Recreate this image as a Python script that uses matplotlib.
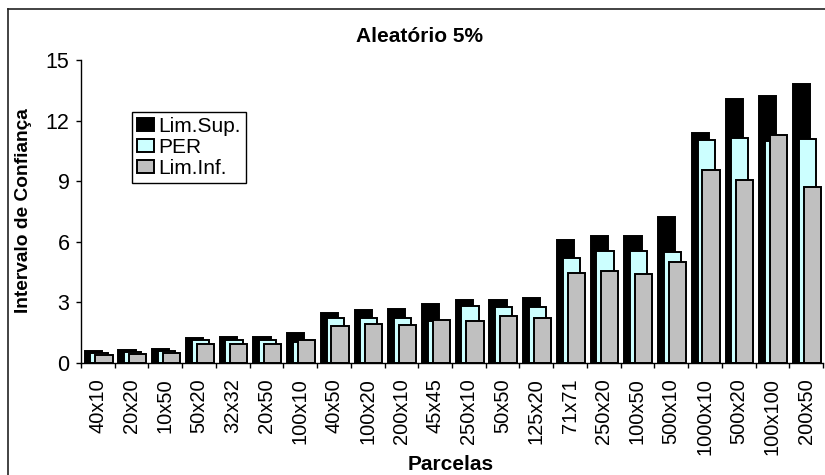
import matplotlib
matplotlib.use("Agg")
import matplotlib.pyplot as plt
from matplotlib.lines import Line2D
import numpy as np

plt.rcParams['font.family'] = ['Liberation Sans', 'DejaVu Sans']

categories = ["40x10", "20x20", "10x50", "50x20", "32x32", "20x50", "100x10",
              "40x50", "100x20", "200x10", "45x45", "250x10", "50x50", "125x20",
              "71x71", "250x20", "100x50", "500x10", "1000x10", "500x20",
              "100x100", "200x50"]
lim_sup = [0.58, 0.62, 0.68, 1.26, 1.27, 1.27, 1.47, 2.48, 2.64, 2.69, 2.90,
           3.10, 3.14, 3.20, 6.08, 6.27, 6.30, 7.23, 11.41, 13.07, 13.24, 13.81]
per = [0.48, 0.52, 0.58, 1.16, 1.16, 1.15, 1.05, 2.23, 2.25, 2.23, 2.08,
       2.81, 2.77, 2.77, 5.18, 5.53, 5.53, 5.48, 11.06, 11.12, 10.98, 11.11]
lim_inf = [0.42, 0.46, 0.49, 0.93, 0.93, 0.93, 1.12, 1.85, 1.93, 1.90, 2.15,
           2.06, 2.33, 2.25, 4.46, 4.57, 4.42, 4.98, 9.57, 9.04, 11.29, 8.71]
y_ticks = [0, 3, 6, 9, 12, 15]

W, H = 825, 475
fig = plt.figure(figsize=(W / 100, H / 100), dpi=100)
ax = fig.add_axes([81 / W, 1 - 363 / H, (823 - 81) / W, (363 - 60) / H])

x = np.arange(len(categories))
bw = 0.51
series = [
    (lim_sup, -0.135, "#000000", "Lim.Sup."),
    (per, 0.035, "#CCFFFF", "PER"),
    (lim_inf, 0.18, "#C0C0C0", "Lim.Inf."),
]
handles = []
for vals, off, col, lab in series:
    b = ax.bar(x + off, vals, width=bw, color=col, edgecolor="black",
               linewidth=1.4, label=lab, zorder=2)
    handles.append(b)

ax.set_xlim(-0.5, len(categories) - 0.5)
ax.set_ylim(0, 15)
ax.set_yticks(y_ticks)
ax.set_yticklabels([str(t) for t in y_ticks])

ax.set_xticks(x)
ax.set_xticklabels(categories, rotation=90, ha="center", va="top")
ax.set_xticks(np.arange(len(categories) + 1) - 0.5, minor=True)
ax.tick_params(axis="x", which="major", length=0, pad=11, labelsize=14.5)
ax.tick_params(axis="x", which="minor", length=3.8, width=1, direction="out")
ax.tick_params(axis="y", length=3.8, width=1, direction="out", pad=4.5,
               labelsize=15.5)

for s in ("top", "right"):
    ax.spines[s].set_visible(False)
for s in ("left", "bottom"):
    ax.spines[s].set_linewidth(1.0)

fig.text(419 / W, 1 - 41.5 / H, "Aleatório 5%", ha="center", va="baseline",
         fontsize=15, fontweight="bold")
fig.text(451 / W, 1 - 470 / H, "Parcelas", ha="center", va="baseline",
         fontsize=15, fontweight="bold")
fig.text(24 / W, 1 - 210.5 / H, "Intervalo de Confiança", ha="center",
         va="center", rotation=90, fontsize=13.75, fontweight="bold")

leg = ax.legend(handles=handles, loc="upper left",
                bbox_to_anchor=(132 / W, 1 - 111.7 / H),
                bbox_transform=fig.transFigure, borderaxespad=0,
                fontsize=15, frameon=True, fancybox=False, edgecolor="black",
                framealpha=1, borderpad=0.25, labelspacing=0.1,
                handlelength=0.8, handleheight=0.55, handletextpad=0.2)
leg.get_frame().set_linewidth(1.0)

# chart area border (left and top edges)
fig.add_artist(Line2D([8 / W, 8 / W], [0, 1 - 9 / H], transform=fig.transFigure,
                      color="#222222", linewidth=1.2))
fig.add_artist(Line2D([8 / W, 1], [1 - 9 / H, 1 - 9 / H],
                      transform=fig.transFigure, color="#222222", linewidth=1.2))

fig.savefig("out.png", dpi=100)
